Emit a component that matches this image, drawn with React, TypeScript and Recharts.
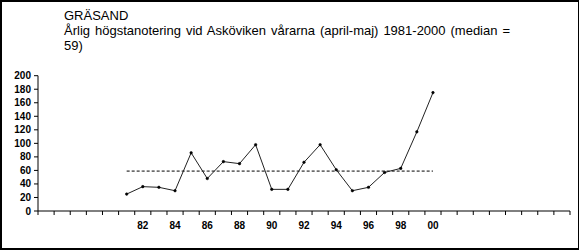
import React from 'react';
import { LineChart, Line, XAxis, YAxis } from 'recharts';

const years = [1981, 1982, 1983, 1984, 1985, 1986, 1987, 1988, 1989, 1990, 1991, 1992, 1993, 1994, 1995, 1996, 1997, 1998, 1999, 2000];
const values = [25, 36, 35, 30, 86, 48, 73, 70, 98, 32, 32, 72, 98, 61, 30, 35, 57, 63, 117, 175];
const medianValue = 59;
const labelYears = [1982, 1984, 1986, 1988, 1990, 1992, 1994, 1996, 1998, 2000];
const yTicks = [0, 20, 40, 60, 80, 100, 120, 140, 160, 180, 200];
const axisStart = 1975.5;
const axisEnd = 2008.5;

const boundaryTicks: number[] = [];
for (let v = axisStart; v <= axisEnd; v += 1) boundaryTicks.push(v);
const xTicks = [...boundaryTicks, ...labelYears].sort((a, b) => a - b);

const data = years.map((y, i) => ({ year: y, value: values[i], median: medianValue }));

const FONT = '"Liberation Sans", Arial, sans-serif';

const XTick = (props: any) => {
  const { x, y, payload } = props;
  const v = payload.value;
  if (!Number.isInteger(v)) {
    return <line x1={x} x2={x} y1={y} y2={y + 4} stroke="#000" strokeWidth={1} />;
  }
  const s = String(v).slice(2);
  return (
    <text x={x} y={y + 18} textAnchor="middle" fontFamily={FONT} fontSize={10} fontWeight="bold" fill="#000">
      {s}
    </text>
  );
};

export default function App() {
  return (
    <div style={{ position: 'absolute', left: 0, top: 0, width: 580, height: 250, background: '#fff' }}>
      <div style={{ position: 'absolute', left: 64, top: 8, fontFamily: FONT, fontSize: 13, lineHeight: '15px', color: '#000' }}>
        <div>GRÄSAND</div>
        <div style={{ width: 446, textAlign: 'justify', textAlignLast: 'justify' as any, whiteSpace: 'nowrap' }}>
          Årlig högstanotering vid Asköviken vårarna (april-maj) 1981-2000 (median =
        </div>
        <div>59)</div>
      </div>
      <div style={{ position: 'absolute', left: 0, top: 0 }}>
        <LineChart width={580} height={250} data={data} margin={{ top: 75.7, right: 10, bottom: 0, left: 0 }}>
          <XAxis
            dataKey="year"
            type="number"
            domain={[axisStart, axisEnd]}
            ticks={xTicks}
            interval={0}
            tickLine={false}
            tickSize={0}
            tickMargin={0}
            tick={<XTick />}
            height={39}
            axisLine={{ stroke: '#000', strokeWidth: 1 }}
            allowDataOverflow
          />
          <YAxis
            type="number"
            domain={[0, 200]}
            ticks={yTicks}
            interval={0}
            width={38}
            tickSize={4}
            tickMargin={3}
            axisLine={{ stroke: '#000', strokeWidth: 1 }}
            tickLine={{ stroke: '#000', strokeWidth: 1 }}
            tick={{ fill: '#000', fontSize: 10, fontWeight: 'bold', fontFamily: FONT }}
          />
          <Line
            dataKey="median"
            stroke="#000"
            strokeWidth={1}
            strokeDasharray="3 2"
            dot={false}
            isAnimationActive={false}
          />
          <Line
            dataKey="value"
            stroke="#222"
            strokeWidth={1}
            dot={{ r: 1.3, fill: '#000', stroke: '#000', strokeWidth: 0.5 }}
            isAnimationActive={false}
          />
        </LineChart>
      </div>
      <div style={{ position: 'absolute', left: 0, top: 0, width: 579, height: 250, boxSizing: 'border-box', border: '2px solid #000', borderRightWidth: 1, borderBottomWidth: 2, pointerEvents: 'none' }} />
    </div>
  );
}
